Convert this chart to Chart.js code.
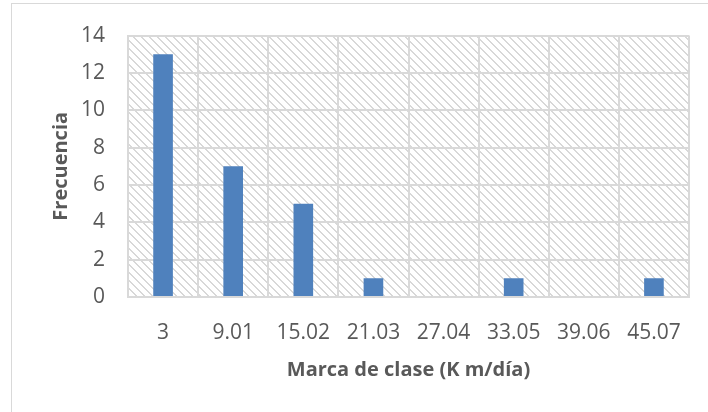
<!DOCTYPE html>
<html>
<head>
<meta charset="utf-8">
<script src="https://cdn.jsdelivr.net/npm/chart.js@4"></script>
<style>
  html, body { margin: 0; padding: 0; background: #ffffff; }
  #wrap { width: 708px; height: 412px; position: relative; }
</style>
</head>
<body>
<div id="wrap"><canvas id="chart" width="708" height="412"></canvas></div>
<script>
// Class marks (hydraulic conductivity, K m/día) and their frequencies
const classMarks = ['3', '9.01', '15.02', '21.03', '27.04', '33.05', '39.06', '45.07'];
const frequencies = [13, 7, 5, 1, 0, 1, 0, 1];
const yTicks = [0, 2, 4, 6, 8, 10, 12, 14];

const xTitle = 'Marca de clase (K m/día)';
const yTitle = 'Frecuencia';

const FONT = "'Open Sans', Lato, sans-serif";
const TEXT = '#595959';
const GRID = '#d9d9d9';

// 8x8 "wide downward diagonal" fill for the plot area
function makeHatch(ctx) {
  const tile = document.createElement('canvas');
  tile.width = 8; tile.height = 8;
  const t = tile.getContext('2d');
  t.fillStyle = '#ffffff';
  t.fillRect(0, 0, 8, 8);
  t.fillStyle = '#d8d8d8';
  for (let y = 0; y < 8; y++) {
    for (let k = 0; k < 2; k++) {
      t.fillRect((y + k) % 8, y, 1, 1);
    }
  }
  return ctx.createPattern(tile, 'repeat');
}

const backdrop = {
  id: 'backdrop',
  beforeDraw(chart) {
    const { ctx, chartArea: a } = chart;
    ctx.save();
    // outer chart frame
    ctx.strokeStyle = GRID;
    ctx.lineWidth = 1;
    ctx.strokeRect(11.5, 3.5, 900, 600);
    // hatched plot area
    ctx.fillStyle = makeHatch(ctx);
    ctx.fillRect(a.left, a.top, a.right - a.left, a.bottom - a.top);
    ctx.restore();
  }
};

new Chart(document.getElementById('chart'), {
  type: 'bar',
  data: {
    labels: classMarks,
    datasets: [{
      data: frequencies,
      backgroundColor: '#4f81bd',
      borderWidth: 0,
      barPercentage: 1,
      categoryPercentage: 0.28
    }]
  },
  options: {
    responsive: false,
    animation: false,
    events: [],
    layout: { padding: { top: 32, right: 19, bottom: 0, left: 0 } },
    plugins: { legend: { display: false }, tooltip: { enabled: false } },
    scales: {
      x: {
        grid: { color: GRID, lineWidth: 2, drawTicks: false, offset: true },
        border: { color: GRID, width: 2 },
        ticks: { color: TEXT, font: { family: FONT, size: 21 }, padding: 23, maxRotation: 0, autoSkip: false },
        title: {
          display: true, text: xTitle, color: TEXT,
          font: { family: FONT, size: 20, weight: 'bold' },
          padding: { top: 0, bottom: 30 }
        },
        afterFit(scale) { scale.height = 115; }
      },
      y: {
        min: 0, max: 14,
        afterBuildTicks(scale) { scale.ticks = yTicks.map(v => ({ value: v })); },
        grid: { color: GRID, lineWidth: 2, drawTicks: false },
        border: { color: GRID, width: 2 },
        ticks: { color: TEXT, font: { family: FONT, size: 21 }, padding: 23 },
        title: {
          display: true, text: yTitle, color: TEXT,
          font: { family: FONT, size: 20, weight: 'bold' },
          padding: { top: 49, bottom: 0 }
        },
        afterFit(scale) { scale.width = 128; }
      }
    }
  },
  plugins: [backdrop]
});
</script>
</body>
</html>
